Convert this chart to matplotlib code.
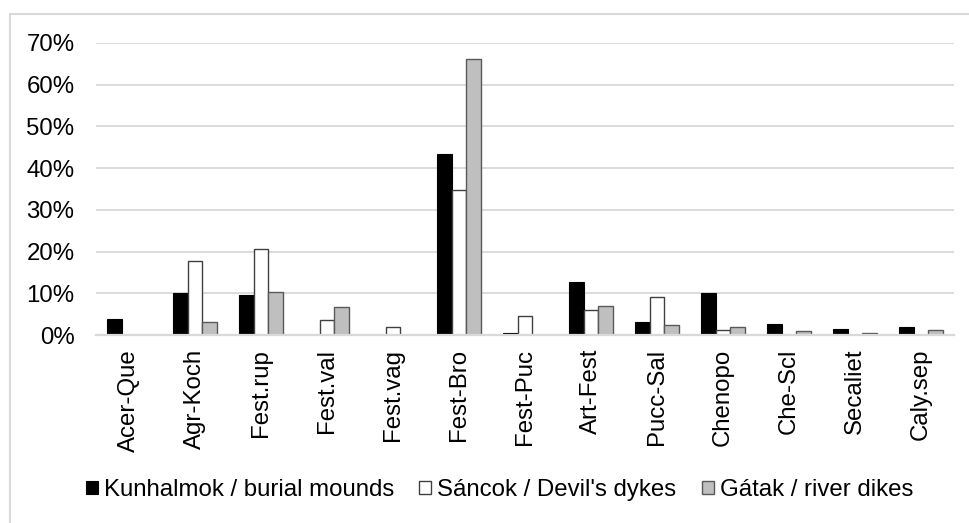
import numpy as np
import matplotlib
matplotlib.use("Agg")
from matplotlib import pyplot as plt
from matplotlib.ticker import PercentFormatter
from matplotlib.lines import Line2D

plt.rcParams['font.family'] = ['Liberation Sans', 'DejaVu Sans']

categories = ["Acer-Que", "Agr-Koch", "Fest.rup", "Fest.val", "Fest.vag", "Fest-Bro",
              "Fest-Puc", "Art-Fest", "Pucc-Sal", "Chenopo", "Che-Scl", "Secaliet", "Caly.sep"]
kunhalmok = [3.9, 10.1, 9.5, 0.0, 0.0, 43.5, 0.5, 12.6, 3.0, 10.1, 2.6, 1.4, 2.0]
sancok = [0.0, 17.7, 20.6, 3.7, 1.9, 34.8, 4.6, 6.0, 9.0, 1.3, 0.0, 0.0, 0.0]
gatak = [0.0, 3.0, 10.2, 6.6, 0.0, 66.1, 0.0, 7.0, 2.5, 1.8, 1.0, 0.5, 1.3]
series_names = ["Kunhalmok / burial mounds", "Sáncok / Devil's dykes", "Gátak / river dikes"]

fs = 17.3

fig = plt.figure(figsize=(9.7, 5.23), dpi=100)
ax = fig.add_axes([96/970, 188/523, 858/970, 292/523])

x = np.arange(len(categories))
w = 0.227
b1 = ax.bar(x - w, np.array(kunhalmok)/100, w, color="black", edgecolor="black", linewidth=0.8, label=series_names[0])
b2 = ax.bar(x, np.array(sancok)/100, w, color="white", edgecolor="#404040", linewidth=1.0, label=series_names[1])
b3 = ax.bar(x + w, np.array(gatak)/100, w, color="#bfbfbf", edgecolor="#595959", linewidth=1.0, label=series_names[2])

ax.set_xlim(-0.5, len(categories) - 0.5)
ax.set_ylim(0, 0.7)
ax.set_yticks(np.arange(0, 0.71, 0.1))
ax.yaxis.set_major_formatter(PercentFormatter(1.0, decimals=0))
ax.grid(axis="y", color="#d9d9d9", linewidth=1.3)
ax.set_axisbelow(True)
for s in ["top", "right", "left"]:
    ax.spines[s].set_visible(False)
ax.spines["bottom"].set_color("#d9d9d9")
ax.spines["bottom"].set_linewidth(1.6)
ax.tick_params(axis="both", length=0, labelsize=fs)
ax.tick_params(axis="y", pad=15.5)
ax.tick_params(axis="x", pad=10)
ax.set_xticks(x)
ax.set_xticklabels(categories, rotation=90)

fig.legend(handles=[b1, b2, b3], loc="center", bbox_to_anchor=(0.515, 1 - 490/523),
           ncol=3, frameon=False, fontsize=fs, handlelength=0.5, handleheight=0.5,
           handletextpad=0.25, columnspacing=1.05, borderaxespad=0)

# outer chart frame
fig.add_artist(Line2D([10/970, 10/970], [0, 1 - 14/523], color="#d9d9d9", linewidth=1.5))
fig.add_artist(Line2D([10/970, 1], [1 - 14/523, 1 - 14/523], color="#d9d9d9", linewidth=1.5))

fig.savefig("out.png", dpi=100)
